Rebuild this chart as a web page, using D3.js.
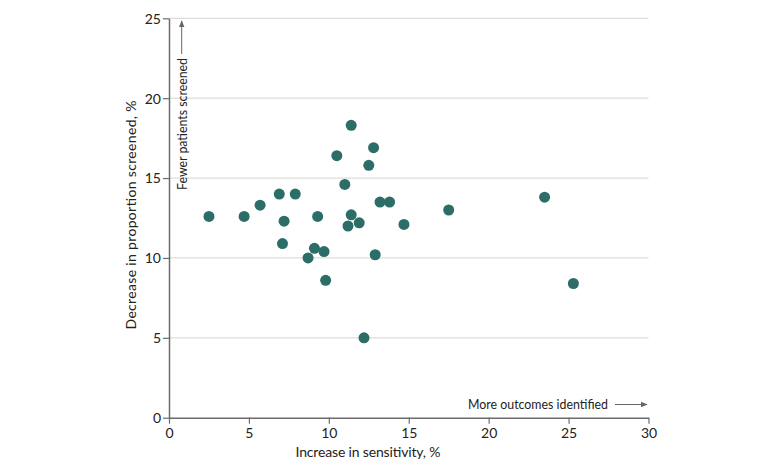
<!DOCTYPE html>
<html><head><meta charset="utf-8">
<script src="https://cdn.jsdelivr.net/npm/d3@7"></script>
<style>
html,body{margin:0;padding:0;background:#fff;}
svg{display:block;font-family:Lato, "Open Sans", sans-serif;}
</style></head>
<body><svg id="c" width="780" height="472"></svg>
<script>
const sensitivity = [2.5, 4.7, 5.7, 6.9, 7.9, 7.2, 7.1, 8.7, 9.1, 9.7, 9.8, 9.3, 10.5, 11.4, 12.8, 12.5, 11.0, 13.2, 13.8, 17.5, 11.4, 11.2, 11.9, 14.7, 12.9, 23.5, 25.3, 12.2];
const screened    = [12.6, 12.6, 13.3, 14.0, 14.0, 12.3, 10.9, 10.0, 10.6, 10.4, 8.6, 12.6, 16.4, 18.3, 16.9, 15.8, 14.6, 13.5, 13.5, 13.0, 12.7, 12.0, 12.2, 12.1, 10.2, 13.8, 8.4, 5.0];
const xTicks = [0, 5, 10, 15, 20, 25, 30];
const yTicks = [0, 5, 10, 15, 20, 25];
const xTitle = "Increase in sensitivity, %";
const yTitle = "Decrease in proportion screened, %";
const xNote = "More outcomes identified";
const yNote = "Fewer patients screened";

const svg = d3.select("#c");
const L = 169, R = 648.5, T = 18.3, B = 417.7;
const x = d3.scaleLinear().domain([0, 30]).range([L, R]);
const y = d3.scaleLinear().domain([0, 25]).range([B, T]);

// gridlines
svg.append("g").selectAll("line").data(yTicks.filter(d => d > 0)).join("line")
  .attr("x1", L).attr("x2", R).attr("y1", d => y(d)).attr("y2", d => y(d))
  .attr("stroke", "#dcdcdc").attr("stroke-width", 1.3);

// axes
const gx = svg.append("g").attr("transform", `translate(0,${B})`)
  .call(d3.axisBottom(x).tickValues(xTicks).tickSize(6).tickPadding(4).tickSizeOuter(0));
const gy = svg.append("g").attr("transform", `translate(${L},0)`)
  .call(d3.axisLeft(y).tickValues(yTicks).tickSize(6).tickPadding(2).tickSizeOuter(0));
[gx, gy].forEach(g => {
  g.select(".domain").attr("stroke", "#6b6b6b").attr("stroke-width", 1.5);
  g.selectAll(".tick line").attr("stroke", "#6b6b6b").attr("stroke-width", 1.2);
  g.selectAll(".tick text").attr("fill", "#222").style("font-size", "14px").style("font-family", "Lato, sans-serif");
});
gy.selectAll(".tick text").attr("dy", "0.35em");

// titles
svg.append("text").attr("x", 368).attr("y", 457).attr("text-anchor", "middle")
  .attr("fill", "#222").style("font-size", "14px").attr("textLength", 145).text(xTitle);
svg.append("text").attr("transform", `translate(136,${(T + B) / 2 - 3}) rotate(-90)`)
  .attr("text-anchor", "middle").attr("fill", "#222").style("font-size", "14px").attr("textLength", 229).text(yTitle);

// annotations
const defs = svg.append("defs");
defs.append("marker").attr("id", "ah").attr("viewBox", "0 0 10 10").attr("refX", 9).attr("refY", 5)
  .attr("markerWidth", 7).attr("markerHeight", 7).attr("markerUnits", "userSpaceOnUse").attr("orient", "auto")
  .append("path").attr("d", "M0,1 L10,5 L0,9 Z").attr("fill", "#666");

svg.append("text").attr("x", 468).attr("y", 409).attr("text-anchor", "start")
  .attr("fill", "#222").style("font-size", "13px").attr("textLength", 140).attr("lengthAdjust", "spacingAndGlyphs").text(xNote);
svg.append("line").attr("x1", 615).attr("x2", 647).attr("y1", 404.5).attr("y2", 404.5)
  .attr("stroke", "#666").attr("stroke-width", 1).attr("marker-end", "url(#ah)");

svg.append("text").attr("transform", `translate(186.5,190) rotate(-90)`).attr("text-anchor", "start")
  .attr("fill", "#222").style("font-size", "13px").attr("textLength", 132).attr("lengthAdjust", "spacingAndGlyphs").text(yNote);
svg.append("line").attr("x1", 181.7).attr("x2", 181.7).attr("y1", 54).attr("y2", 21)
  .attr("stroke", "#666").attr("stroke-width", 1).attr("marker-end", "url(#ah)");

// points
svg.append("g").selectAll("circle").data(sensitivity.map((s, i) => [s, screened[i]])).join("circle")
  .attr("cx", d => x(d[0])).attr("cy", d => y(d[1])).attr("r", 5.5)
  .attr("fill", "#2c6e67");
</script></body></html>
